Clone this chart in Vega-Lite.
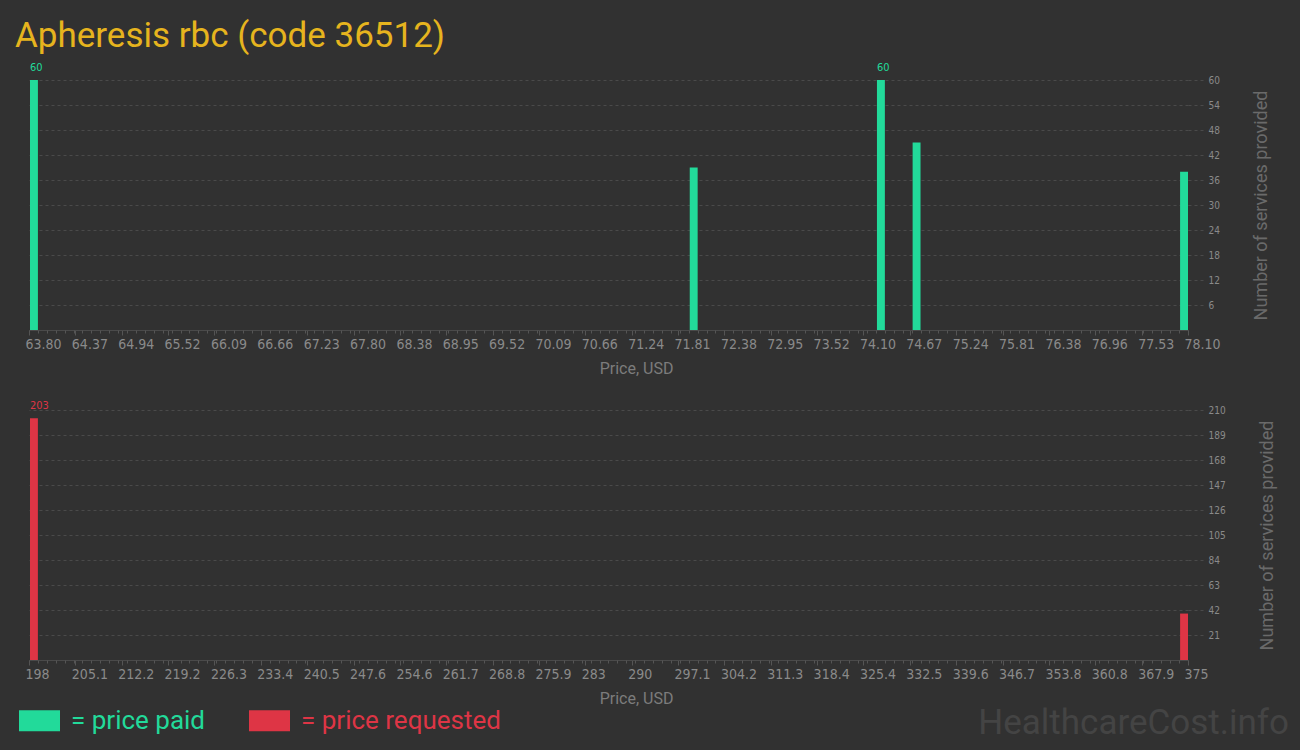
{
  "$schema": "https://vega.github.io/schema/vega-lite/v6.json",
  "background": "#313131",
  "padding": {"left": 15, "top": 19, "right": 20, "bottom": 10},
  "title": {
    "text": "Apheresis rbc (code 36512)",
    "anchor": "start",
    "frame": "group",
    "dx": -14,
    "font": "Roboto",
    "fontSize": 35,
    "fontWeight": "normal",
    "color": "#e6b41e",
    "offset": 8
  },
  "datasets": {
    "paid": [
      {"series": "price paid", "lo": 63.80, "hi": 63.91, "n": 60},
      {"series": "price paid", "lo": 71.94, "hi": 72.05, "n": 39},
      {"series": "price paid", "lo": 74.25, "hi": 74.36, "n": 60},
      {"series": "price paid", "lo": 74.69, "hi": 74.80, "n": 45},
      {"series": "price paid", "lo": 77.99, "hi": 78.10, "n": 38}
    ],
    "requested": [
      {"series": "price requested", "lo": 198.0, "hi": 199.36, "n": 203},
      {"series": "price requested", "lo": 373.64, "hi": 375.0, "n": 39}
    ]
  },
  "resolve": {"scale": {"color": "independent"}, "legend": {"color": "independent"}},
  "vconcat": [
    {
      "width": 1159,
      "height": 250,
      "data": {"name": "paid"},
      "resolve": {"axis": {"x": "independent"}},
      "layer": [
        {
          "mark": {"type": "bar", "orient": "vertical"},
          "encoding": {
            "x": {
              "field": "lo",
              "type": "quantitative",
              "bin": "binned",
              "scale": {"domain": [63.8, 78.1], "nice": false, "zero": false},
              "axis": {
                "orient": "bottom",
                "values": [63.8, 64.372, 64.944, 65.516, 66.088, 66.66, 67.232, 67.804, 68.376, 68.948, 69.52, 70.092, 70.664, 71.236, 71.808, 72.38, 72.952, 73.524, 74.096, 74.668, 75.24, 75.812, 76.384, 76.956, 77.528, 78.1],
                "tickCount": 100,
                "format": ".2f",
                "title": "Price, USD",
                "titleX": 607
              }
            },
            "x2": {"field": "hi"},
            "y": {
              "field": "n",
              "type": "quantitative",
              "scale": {"domain": [0, 60], "nice": false},
              "axis": {
                "values": [6, 12, 18, 24, 30, 36, 42, 48, 54, 60],
                "tickCount": 100,
                "format": "d",
                "title": "Number of services provided"
              }
            },
            "color": {
              "field": "series",
              "type": "nominal",
              "scale": {"domain": ["price paid", "price requested"], "range": ["#22da9a", "#de3545"]},
              "legend": null
            }
          }
        },
        {
          "transform": [
            {"joinaggregate": [{"op": "max", "field": "n", "as": "top"}]},
            {"filter": "datum.n == datum.top"}
          ],
          "mark": {"type": "text", "align": "left", "baseline": "bottom", "dx": 1, "dy": -7, "fontSize": 11, "font": "DejaVu Sans Condensed"},
          "encoding": {
            "x": {
              "field": "lo",
              "type": "quantitative",
              "axis": {
                "orient": "bottom",
                "values": {"expr": "sequence(63.8, 78.105, 0.11)"},
                "tickCount": 1000,
                "labels": false,
                "domain": false,
                "grid": false,
                "tickSize": 3,
                "title": null
              }
            },
            "y": {"field": "n", "type": "quantitative"},
            "text": {"field": "n", "type": "quantitative"},
            "color": {"field": "series", "type": "nominal", "legend": null}
          }
        }
      ]
    },
    {
      "width": 1159,
      "height": 250,
      "data": {"name": "requested"},
      "resolve": {"axis": {"x": "independent"}},
      "title": {
        "text": "HealthcareCost.info",
        "orient": "bottom",
        "anchor": "end",
        "frame": "group",
        "font": "Roboto",
        "fontSize": 35,
        "fontWeight": "normal",
        "color": "#444444",
        "dx": 101,
        "offset": -28
      },
      "layer": [
        {
          "mark": {"type": "bar", "orient": "vertical"},
          "encoding": {
            "x": {
              "field": "lo",
              "type": "quantitative",
              "bin": "binned",
              "scale": {"domain": [198, 375], "nice": false, "zero": false},
              "axis": {
                "orient": "bottom",
                "values": [198, 205.08, 212.16, 219.24, 226.32, 233.4, 240.48, 247.56, 254.64, 261.72, 268.8, 275.88, 282.96, 290.04, 297.12, 304.2, 311.28, 318.36, 325.44, 332.52, 339.6, 346.68, 353.76, 360.84, 367.92, 375],
                "tickCount": 100,
                "format": ".4~r",
                "title": "Price, USD",
                "titleX": 607
              }
            },
            "x2": {"field": "hi"},
            "y": {
              "field": "n",
              "type": "quantitative",
              "scale": {"domain": [0, 210], "nice": false},
              "axis": {
                "values": [21, 42, 63, 84, 105, 126, 147, 168, 189, 210],
                "tickCount": 100,
                "format": "d",
                "title": "Number of services provided"
              }
            },
            "color": {
              "field": "series",
              "type": "nominal",
              "scale": {"domain": ["price paid", "price requested"], "range": ["#22da9a", "#de3545"]},
              "legend": {
                "orient": "none",
                "direction": "horizontal",
                "legendX": -10,
                "legendY": 290,
                "title": null,
                "symbolType": "M-1,-0.512H1V0.512H-1Z",
                "symbolSize": 1681,
                "symbolStrokeWidth": 0,
                "symbolOpacity": 1,
                "labelExpr": "'= ' + datum.label",
                "labelFont": "Roboto",
                "labelFontSize": 26,
                "labelColor": {"expr": "datum.value == 'price paid' ? '#22da9a' : '#de3545'"},
                "labelOffset": 11,
                "labelLimit": 400,
                "columnPadding": 43
              }
            }
          }
        },
        {
          "transform": [
            {"joinaggregate": [{"op": "max", "field": "n", "as": "top"}]},
            {"filter": "datum.n == datum.top"}
          ],
          "mark": {"type": "text", "align": "left", "baseline": "bottom", "dx": 1, "dy": -7, "fontSize": 11, "font": "DejaVu Sans Condensed"},
          "encoding": {
            "x": {
              "field": "lo",
              "type": "quantitative",
              "axis": {
                "orient": "bottom",
                "values": {"expr": "sequence(198, 375.5, 1.361538)"},
                "tickCount": 1000,
                "labels": false,
                "domain": false,
                "grid": false,
                "tickSize": 3,
                "title": null
              }
            },
            "y": {"field": "n", "type": "quantitative"},
            "text": {"field": "n", "type": "quantitative"},
            "color": {"field": "series", "type": "nominal"}
          }
        }
      ]
    }
  ],
  "spacing": 24,
  "config": {
    "view": {"stroke": null},
    "bar": {"binSpacing": 1},
    "axisX": {
      "grid": false,
      "domainColor": "#4a4a4a",
      "tickColor": "#555555",
      "tickSize": 5,
      "labelAlign": "left",
      "labelOffset": -4,
      "labelPadding": 2,
      "labelFont": "DejaVu Sans Condensed",
      "labelFontSize": 14,
      "labelColor": "#8a8a8a",
      "labelOverlap": false,
      "labelFlush": false,
      "titleFont": "Roboto",
      "titleFontSize": 16,
      "titleFontWeight": "normal",
      "titleColor": "#7c7c7c",
      "titlePadding": 9
    },
    "axisY": {
      "orient": "right",
      "domain": false,
      "grid": true,
      "gridColor": "#4a4a4a",
      "gridDash": [3, 3],
      "tickColor": "#4a4a4a",
      "tickDash": [3, 3],
      "tickSize": 16,
      "labelPadding": 4,
      "labelOverlap": false,
      "labelFont": "DejaVu Sans Condensed",
      "labelFontSize": 10,
      "labelColor": "#8a8a8a",
      "titleFont": "Roboto",
      "titleFontSize": 18,
      "titleFontWeight": "normal",
      "titleColor": "#6a6a6a",
      "titleAngle": 270,
      "titleBaseline": "top",
      "titlePadding": 33
    }
  }
}
